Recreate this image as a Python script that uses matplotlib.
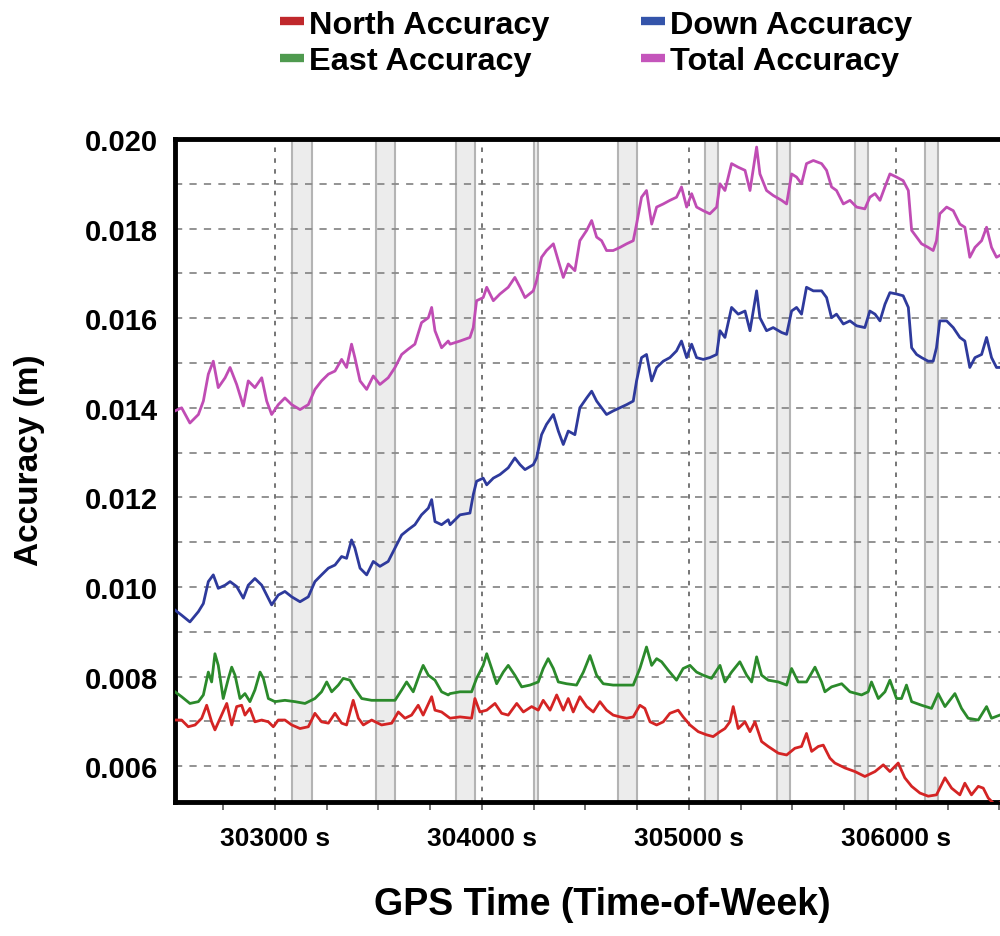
import matplotlib
matplotlib.use("Agg")
import matplotlib.pyplot as plt
from matplotlib.lines import Line2D

plt.rcParams['font.family'] = ['Liberation Sans', 'DejaVu Sans']
plt.rcParams['font.weight'] = 'bold'

# ---------------- data ----------------
# time stamps (GPS time-of-week, s) shared by Total and Down accuracy
t_upper = [
    302517, 302549, 302589, 302630, 302654, 302678, 302702, 302726, 302759, 302783,
    302815, 302847, 302871, 302903, 302936, 302960, 302984, 303016, 303048, 303081,
    303121, 303161, 303193, 303225, 303258, 303290, 303322, 303346, 303370, 303386,
    303411, 303443, 303475, 303507, 303547, 303580, 303612, 303644, 303676, 303708,
    303741, 303757, 303773, 303805, 303837,
    303846, 303894, 303942, 303958, 303974, 304006, 304023, 304055, 304087, 304127,
    304159, 304184, 304208, 304248, 304264, 304288, 304312, 304345, 304369, 304393,
    304417, 304449, 304473, 304506, 304530, 304554, 304578, 304602, 304634, 304667,
    304699, 304731, 304747, 304771, 304795, 304820, 304844, 304876, 304908, 304940,
    304964, 304989, 305013, 305037, 305069, 305101, 305134, 305150,
    305174, 305206, 305238, 305271, 305295, 305327, 305343, 305375, 305407, 305448,
    305472, 305496, 305520, 305544, 305568, 305601, 305641, 305665, 305689, 305713,
    305746, 305778, 305810, 305850, 305874, 305899, 305923, 305947, 305971, 306003,
    306035, 306060, 306076, 306100, 306124, 306156, 306180, 306196, 306212, 306245,
    306277, 306309, 306333, 306357, 306382, 306414, 306438, 306462, 306486, 306502,
]
total_acc = [
    .01393, .01400, .01366, .01385, .01415, .01475, .01504, .01445, .01467, .01490,
    .01452, .01404, .01460, .01445, .01467, .01415, .01385, .01407, .01422, .01407,
    .01396, .01407, .01441, .01460, .01475, .01482, .01508, .01490, .01542, .01512,
    .01460, .01441, .01471, .01452, .01467, .01490, .01519, .01531, .01542, .01590,
    .01601, .01624, .01572, .01534, .01549,
    .01542, .01549, .01557, .01579, .01639, .01646, .01669, .01639, .01654, .01669,
    .01691, .01669, .01646, .01661, .01684, .01736, .01751, .01766, .01728, .01691,
    .01721, .01706, .01773, .01796, .01818, .01781, .01773, .01751, .01751, .01758,
    .01766, .01773, .01810, .01870, .01885, .01810, .01848, .01855, .01863, .01870,
    .01893, .01848, .01878, .01848, .01840, .01833, .01848, .01900,
    .01885, .01945, .01937, .01930, .01885, .01982, .01922, .01885, .01874, .01863,
    .01855, .01922, .01915, .01900, .01945, .01952, .01945, .01930, .01893, .01885,
    .01855, .01863, .01848, .01844, .01870, .01878, .01863, .01893, .01922, .01915,
    .01907, .01885, .01796, .01781, .01766, .01758, .01751, .01773, .01833, .01848,
    .01840, .01810, .01803, .01736, .01758, .01773, .01803, .01758, .01736, .01740,
]
down_acc = [
    .009485, .00937, .00922, .00945, .00963, .01012, .01027, .00997, .01004, .01012,
    .01001, .00975, .01004, .01019, .01004, .00982, .00960, .00982, .00990, .00978,
    .00967, .00978, .01012, .01027, .01042, .01049, .01068, .01064, .01105, .01087,
    .01042, .01027, .01057, .01046, .01057, .01087, .01116, .01128, .01139, .01161,
    .01176, .01195, .01146, .01139, .01150,
    .01139, .01161, .01165, .01206, .01236, .01243, .01228, .01243, .01251, .01266,
    .01288, .01273, .01262, .01273, .01288, .01340, .01363, .01385, .01348, .01318,
    .01348, .01340, .01400, .01422, .01437, .01415, .01400, .01385, .01393, .01400,
    .01407, .01415, .01460, .01512, .01519, .01460, .01490, .01504, .01512, .01527,
    .01549, .01512, .01542, .01512, .01508, .01512, .01519, .01572,
    .01557, .01624, .01609, .01616, .01572, .01661, .01601, .01572, .01579, .01568,
    .01564, .01616, .01624, .01609, .01669, .01661, .01661, .01646, .01601, .01609,
    .01587, .01594, .01583, .01579, .01616, .01609, .01594, .01631, .01657, .01654,
    .01650, .01624, .01534, .01519, .01512, .01504, .01504, .01534, .01594, .01594,
    .01579, .01557, .01549, .01490, .01512, .01519, .01557, .01512, .01490, .01490,
]

t_east = [
    302517, 302549, 302589, 302630, 302654, 302678, 302694, 302710, 302726, 302750,
    302775, 302791, 302807, 302831, 302855, 302879, 302903, 302928, 302944, 302968,
    303000, 303048, 303097, 303145, 303193, 303225, 303250, 303274, 303306, 303330,
    303362, 303386, 303419, 303467, 303515, 303580, 303612, 303636, 303668, 303700,
    303716, 303741, 303773, 303805, 303837,
    303846, 303894, 303950, 303974, 304006, 304023, 304047, 304071, 304103, 304127,
    304159, 304192, 304232, 304272, 304296, 304320, 304345, 304369, 304409, 304457,
    304490, 304522, 304554, 304586, 304634, 304683, 304731, 304763, 304795, 304820,
    304844, 304868, 304900, 304940, 304972, 305005, 305037, 305069, 305109, 305150,
    305174, 305206, 305246, 305279, 305303, 305327, 305351, 305383, 305432, 305472,
    305496, 305528, 305568, 305609, 305641, 305657, 305689, 305738, 305778, 305834,
    305866, 305882, 305915, 305947, 305971, 306003, 306027, 306051, 306076, 306124,
    306172, 306204, 306237, 306285, 306317, 306349, 306398, 306438, 306462, 306502,
]
east_acc = [
    .00766, .00755, .00740, .00744, .00759, .00810, .00788, .00851, .00825, .00751,
    .00796, .00821, .00803, .00751, .00762, .00744, .00770, .00810, .00796, .00751,
    .00744, .00747, .00744, .00740, .00751, .00766, .00788, .00766, .00781, .00796,
    .00792, .00773, .00751, .00747, .00747, .00747, .00770, .00788, .00766, .00807,
    .00825, .00803, .00792, .00766, .00759,
    .00762, .00766, .00766, .00796, .00825, .00851, .00818, .00784, .00810, .00825,
    .00803, .00777, .00781, .00788, .00818, .00840, .00818, .00788, .00784, .00781,
    .00810, .00847, .00803, .00784, .00781, .00781, .00781, .00818, .00866, .00825,
    .00840, .00833, .00814, .00792, .00818, .00825, .00810, .00803, .00796, .00825,
    .00788, .00810, .00833, .00803, .00788, .00844, .00803, .00792, .00788, .00781,
    .00818, .00788, .00788, .00821, .00788, .00766, .00777, .00784, .00766, .00759,
    .00766, .00788, .00751, .00766, .00792, .00751, .00751, .00781, .00744, .00736,
    .00729, .00762, .00733, .00762, .00729, .00707, .00703, .00733, .00707, .00714,
]

t_north = [
    302517, 302549, 302581, 302614, 302646, 302670, 302694, 302710, 302742, 302767,
    302791, 302815, 302839, 302855, 302879, 302903, 302936, 302968, 302992, 303016,
    303048, 303081, 303121, 303161, 303193, 303225, 303258, 303290, 303322, 303346,
    303378, 303403, 303427, 303467, 303515, 303564, 303596, 303628, 303660, 303692,
    303716, 303757, 303773, 303805, 303837,
    303846, 303894, 303950, 303966, 303990, 304023, 304063, 304095, 304127, 304168,
    304200, 304240, 304272, 304296, 304329, 304361, 304393, 304417, 304441, 304473,
    304506, 304538, 304570, 304602, 304634, 304667, 304699, 304731, 304763, 304787,
    304812, 304844, 304876, 304908, 304948, 304972, 305005, 305045, 305085, 305117,
    305150,
    305174, 305198, 305214, 305238, 305271, 305295, 305319, 305351, 305383, 305432,
    305472, 305512, 305544, 305568, 305593, 305625, 305649, 305681, 305705, 305754,
    305802, 305850, 305899, 305939, 305971, 306011, 306043, 306076, 306116, 306156,
    306196, 306237, 306269, 306309, 306333, 306365, 306398, 306422, 306446, 306478,
    306502,
]
north_acc = [
    .00703, .00703, .00688, .00692, .00707, .00736, .00699, .00681, .00714, .00740,
    .00692, .00733, .00736, .00714, .00729, .00699, .00703, .00699, .00688, .00703,
    .00703, .00692, .00684, .00688, .00718, .00699, .00696, .00718, .00696, .00692,
    .00747, .00707, .00692, .00703, .00692, .00696, .00721, .00707, .00714, .00736,
    .00714, .00755, .00725, .00721, .00710,
    .00707, .00710, .00707, .00751, .00721, .00725, .00740, .00718, .00714, .00740,
    .00721, .00733, .00725, .00747, .00725, .00759, .00725, .00751, .00721, .00755,
    .00733, .00721, .00744, .00725, .00714, .00710, .00707, .00710, .00736, .00729,
    .00699, .00692, .00699, .00718, .00725, .00710, .00692, .00677, .00670, .00666,
    .00677,
    .00684, .00699, .00733, .00684, .00699, .00677, .00699, .00655, .00644, .00629,
    .00625, .00640, .00644, .00673, .00633, .00644, .00647, .00618, .00607, .00596,
    .00588, .00577, .00588, .00603, .00588, .00607, .00574, .00555, .00540, .00533,
    .00536, .00574, .00551, .00536, .00562, .00536, .00555, .00551, .00529, .00514,
    .00518,
]

# shaded (gray) intervals
band_start = [303083, 303488, 303874, 304252, 304658, 305078, 305424, 305802, 306140]
band_end   = [303180, 303580, 303966, 304270, 304749, 305140, 305488, 305865, 306203]

series_labels = ["North Accuracy", "East Accuracy", "Down Accuracy", "Total Accuracy"]
line_colors = ["#d42424", "#2b8a2b", "#2e3a9c", "#c04cb4"]
legend_colors = ["#c0282c", "#4f9a4f", "#3454aa", "#c455bb"]

xticks = [303000, 304000, 305000, 306000]
xtick_labels = ["303000 s", "304000 s", "305000 s", "306000 s"]
yticks = [0.006, 0.008, 0.010, 0.012, 0.014, 0.016, 0.018, 0.020]
ytick_labels = ["0.006", "0.008", "0.010", "0.012", "0.014", "0.016", "0.018", "0.020"]

# ---------------- figure ----------------
# the original plot area continues past the right edge of the image (cropped)
fig = plt.figure(figsize=(10, 9.37), dpi=100)
ax = fig.add_axes([0.175, 0.143, 0.854, 0.7076])

for s, e in zip(band_start, band_end):
    ax.axvspan(s, e, facecolor="#ececec", edgecolor="#b4b4b4", lw=1.5, zorder=0.5)

# grid
for y in [0.006 + 0.001 * i for i in range(14)]:
    ax.axhline(y, color="#8a8a8a", lw=1.3, ls=(0, (4, 4)), zorder=0.8)
for x in xticks:
    ax.axvline(x, color="#6a6a6a", lw=1.3, ls=(0, (2.5, 3.5)), zorder=0.8)

lw = 2.0
ax.plot(t_north, north_acc, color=line_colors[0], lw=lw, zorder=3)
ax.plot(t_east, east_acc, color=line_colors[1], lw=lw, zorder=3)
ax.plot(t_upper, down_acc, color=line_colors[2], lw=lw, zorder=3)
ax.plot(t_upper, total_acc, color=line_colors[3], lw=lw, zorder=3)

ax.set_xlim(302517, 306643)
ax.set_ylim(0.0052, 0.020)

ax.set_xticks(xticks)
ax.set_xticklabels(xtick_labels, fontsize=19, fontweight="bold")
ax.set_xticks([302750 + 250 * i for i in range(16)], minor=True)
ax.set_yticks(yticks)
ax.set_yticklabels(ytick_labels, fontsize=21, fontweight="bold")
ax.tick_params(axis="x", which="both", direction="out", length=6, width=1.2,
               color="#555555", pad=11)
ax.tick_params(axis="y", length=0, pad=12)

for side in ["left", "top", "bottom"]:
    ax.spines[side].set_linewidth(3.5)
    ax.spines[side].set_color("black")
ax.spines["right"].set_visible(False)

ax.set_xlabel("GPS Time (Time-of-Week)", fontsize=27, fontweight="bold", labelpad=26)
ax.set_ylabel("Accuracy (m)", fontsize=24, fontweight="bold")
ax.yaxis.set_label_coords(-0.152, 0.517)

handles = [Line2D([], [], color=c, lw=6, solid_capstyle="butt") for c in legend_colors]
fig.legend(handles, series_labels, loc="center", bbox_to_anchor=(0.596, 0.953),
           ncol=2, frameon=False, handlelength=0.75, handletextpad=0.15,
           columnspacing=2.8, labelspacing=0.2, prop={"weight": "bold", "size": 23.4})

fig.savefig("out.png", dpi=100)
